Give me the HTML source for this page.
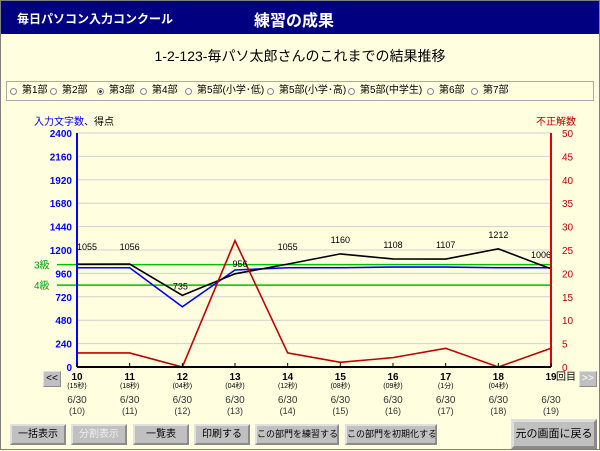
<!DOCTYPE html>
<html><head><meta charset="utf-8">
<style>
body{margin:0;width:600px;height:450px;overflow:hidden;background:#ffffe0;font-family:"Liberation Sans","Noto Sans CJK JP",sans-serif}
#wrap{position:absolute;left:0;top:0;width:598px;height:448px;border:1px solid #808080;background:#ffffe0}
#hdr{position:absolute;left:0;top:0;width:598px;height:33px;background:#000080;color:#fff}
.btn{position:absolute;top:423px;height:17px;background:#c0c0c0;border:2px outset #e0e0e0;font-size:10px;text-align:center;line-height:17px;white-space:nowrap;overflow:hidden}
.radio{position:absolute;top:84px;height:12px;font-size:10px;line-height:12px;display:flex;align-items:center;white-space:nowrap}
.radio i{display:inline-block;width:5px;height:5px;border:1px solid #888;border-radius:50%;background:#fff;margin-right:5px}
</style></head><body>
<div id="wrap">
<div id="hdr">
<span style="position:absolute;left:16px;top:9px;font-size:12px;font-weight:bold">毎日パソコン入力コンクール</span>
<span style="position:absolute;left:253px;top:6px;font-size:16px;font-weight:bold">練習の成果</span>
</div>
<div style="position:absolute;left:0;width:598px;top:45px;text-align:center;font-size:14px">1-2-123-毎パソ太郎さんのこれまでの結果推移</div>
<div style="position:absolute;left:5px;top:80px;width:586px;height:18px;border:1px solid #aaa"></div>
<div id="radios"></div>
<div style="position:absolute;left:33px;top:112px;font-size:10px"><span style="color:#00f">入力文字数</span>、得点</div>
<div style="position:absolute;left:535px;top:112px;font-size:10px;color:#c00000">不正解数</div>
<svg id="chart" width="600" height="450" style="position:absolute;left:0;top:0"></svg>
<div class="btn" style="left:42px;top:370px;width:16px;height:14px;line-height:14px;font-size:10px;border-width:1px">&lt;&lt;</div>
<div class="btn" style="left:578px;top:370px;width:16px;height:14px;line-height:14px;font-size:10px;border-width:1px;color:#fff">&gt;&gt;</div>
<div class="btn" style="left:9px;width:52px">一括表示</div>
<div class="btn" style="left:70px;width:52px;color:#f0f0f0">分割表示</div>
<div class="btn" style="left:132px;width:52px">一覧表</div>
<div class="btn" style="left:193px;width:52px">印刷する</div>
<div class="btn" style="left:254px;width:80px;font-size:9px">この部門を練習する</div>
<div class="btn" style="left:344px;width:88px;font-size:9px">この部門を初期化する</div>
<div class="btn" style="left:510px;top:418px;width:80px;height:24px;line-height:24px;border:3px outset #ddd;font-size:11px">元の画面に戻る</div>
</div>
<script>
const rounds=[10,11,12,13,14,15,16,17,18,19];
const times=["15秒","18秒","04秒","04秒","12秒","08秒","09秒","1分","04秒",""];
const dates=["6/30","6/30","6/30","6/30","6/30","6/30","6/30","6/30","6/30","6/30"];
const scores=[1055,1056,735,956,1055,1160,1108,1107,1212,1006];
const chars=[1018,1018,618,995,1018,1018,1025,1025,1018,1018];
const errors=[3,3,0,27,3,1,2,4,0,4];
const leftTicks=[0,240,480,720,960,1200,1440,1680,1920,2160,2400];
const rightTicks=[0,5,10,15,20,25,30,35,40,45,50];
const grades=[["3級",1050],["4級",840]];
const radioLabels=["第1部","第2部","第3部","第4部","第5部(小学･低)","第5部(小学･高)","第5部(中学生)","第6部","第7部"];

const X0=76,X1=550,Y0=366,Y1=132;
const xs=i=>X0+(X1-X0)*i/(rounds.length-1);
const yl=v=>Y0-(Y0-Y1)*v/2400;
const yr=v=>Y0-(Y0-Y1)*v/50;
const svg=document.getElementById('chart');
const NS='http://www.w3.org/2000/svg';
function mk(t,a,txt){const e=document.createElementNS(NS,t);for(const k in a)e.setAttribute(k,a[k]);if(txt!==undefined)e.textContent=txt;svg.appendChild(e);return e;}

const rx=[9,49,96,139,184,266,347,426,470];
const rd=document.getElementById('radios');
radioLabels.forEach((l,i)=>{const d=document.createElement('div');d.className='radio';d.style.left=rx[i]+'px';
d.innerHTML='<i'+(i==2?' style="background:radial-gradient(#333 35%,#fff 45%)"':'')+'></i>'+l;


rd.appendChild(d);});

leftTicks.forEach(v=>{
 if(v>0){const g=mk('line',{x1:X0,x2:X1,y1:yl(v),y2:yl(v),stroke:'#d0d0d0','stroke-width':1});
 
 }
 const t=mk('text',{x:X0-5,y:yl(v)+4,'text-anchor':'end','font-size':10,'font-weight':'bold',fill:'#0000ff'},v);
 
 
});
rightTicks.forEach(v=>{
 const t=mk('text',{x:X1+11,y:yr(v)+4,'font-size':10,fill:'#c00000'},v);
 
 
});
grades.forEach(g=>{
 const l=mk('line',{x1:X0-20,x2:X1,y1:yl(g[1]),y2:yl(g[1]),stroke:'#00c000','stroke-width':1.5});
 
 
 const t=mk('text',{x:X0-43,y:yl(g[1])+4,'font-size':10,fill:'#00a000'},g[0]);
 
 
});
function line(arr,f,col,name){
 const p=mk('polyline',{points:arr.map((v,i)=>xs(i)+','+f(v)).join(' '),fill:'none',stroke:col,'stroke-width':1.6});
 
 
}
line(chars,yl,'#0000ff','chars-line');
line(scores,yl,'#000000','score-line');
line(errors,yr,'#c00000','errors-line');
scores.forEach((v,i)=>{
 let y=yl(v)-11, x=xs(i)+(i==0?10:i==9?-10:0);
 if(i==0||i==1||i==4)y=yl(v)-14;
 if(i==2){y=yl(v)-6;x=xs(i)-2;}
 if(i==3){y=yl(v)-7;x=xs(i)+5;}
 const t=mk('text',{x:x,y:y,'text-anchor':'middle','font-size':9,fill:'#000'},v);
 
 
});
let a=mk('line',{x1:X0,x2:X0,y1:Y1,y2:Y0,stroke:'#0000ff','stroke-width':2});

a=mk('line',{x1:X1,x2:X1,y1:Y1,y2:Y0,stroke:'#e00000','stroke-width':2});

a=mk('line',{x1:X0,x2:X1,y1:Y0,y2:Y0,stroke:'#000','stroke-width':2});

rounds.forEach((r,i)=>{
 const x=xs(i);
 const tk=mk('line',{x1:x,x2:x,y1:Y0-4,y2:Y0,stroke:'#000'});
 
 const t=mk('text',{x:x,y:379,'text-anchor':'middle','font-size':10,'font-weight':'bold'},r);
 
 if(times[i]){const s=mk('text',{x:x,y:387,'text-anchor':'middle','font-size':7},'('+times[i]+')');
 }
 const d=mk('text',{x:x,y:402,'text-anchor':'middle','font-size':10,fill:'#333'},dates[i]);
 
 const d2=mk('text',{x:x,y:413,'text-anchor':'middle','font-size':9,fill:'#333'},'('+r+')');
 
});
const kai=mk('text',{x:X1+5,y:379,'font-size':10},'回目');

</script>
</body></html>
